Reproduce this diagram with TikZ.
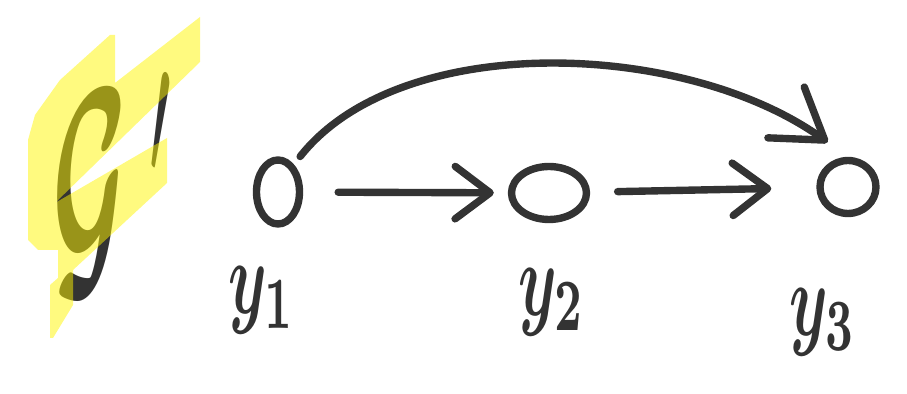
\documentclass[tikz,border=0pt]{standalone}
\usepackage{amsmath}
\usetikzlibrary{arrows.meta,shapes.geometric}
\definecolor{ink}{RGB}{51,51,51}
\definecolor{marker}{RGB}{255,245,0}
\tikzset{
  vertex/.style={draw=ink,ellipse,inner sep=0pt},
  edge/.style={draw=ink,-{Straight Barb[length=0.7cm,width=1.05cm,round]}},
  lab/.style={text=ink,xscale=3.5,yscale=6}
}
\begin{document}
\begin{tikzpicture}[x=0.02cm,y=-0.02cm,line width=4.2pt,line cap=round,line join=round]
    \useasboundingbox (0,0) rectangle (907,394);
    %the graph name, marked over with the highlighter
    \node[text=ink,xscale=5.8,yscale=15] (gname) at (115,185) {$\boldsymbol{\mathcal{G}}\hspace{2pt}'$};
    \fill[marker,fill opacity=0.5] (110,35) -- (115,35) -- (115,83) -- (200,17) -- (200,62)
        -- (55,203) -- (167,138) -- (167,183) -- (73,270) -- (73,305) -- (53,338) -- (50,338)
        -- (50,285) -- (58,278) -- (58,250) -- (38,250) -- (28,240) -- (28,140)
        -- (35,115) -- (60,80) -- cycle;
    \node[vertex,minimum width=0.86cm,minimum height=1.28cm] (y1) at (278,192) {};
    \node[vertex,minimum width=1.5cm,minimum height=1.06cm] (y2) at (549,193) {};
    \node[vertex,minimum width=1.12cm,minimum height=1.06cm] (y3) at (848,187) {};
    \node[lab] (ly1) at (262,300) {$\boldsymbol{y_1}$};
    \node[lab] (ly2) at (552,302) {$\boldsymbol{y_2}$};
    \node[lab] (ly3) at (823,322) {$\boldsymbol{y_3}$};
    \draw[edge,shorten <=0.7cm,shorten >=0.28cm] (y1) -- (y2);
    \draw[edge,shorten <=0.55cm,shorten >=0.9cm] (y2) -- (y3);
    \draw[edge,-{Straight Barb[length=0.95cm,width=1.25cm,round]},shorten <=0.2cm,shorten >=0.5cm]
        (y1.60) .. controls (400,30) and (685,40) .. (y3.north);
\end{tikzpicture}
\end{document}
